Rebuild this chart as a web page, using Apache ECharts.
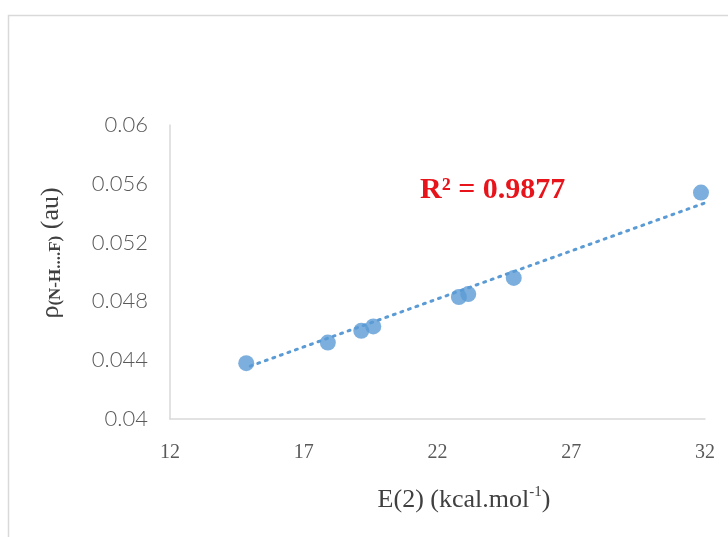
<!DOCTYPE html>
<html>
<head>
<meta charset="utf-8">
<script src="https://cdn.jsdelivr.net/npm/echarts@6/dist/echarts.min.js"></script>
<style>
  html, body { margin: 0; padding: 0; background: #fff; }
  #chart { width: 728px; height: 537px; }
</style>
</head>
<body>
<div id="chart"></div>
<script>
// E(2) in kcal/mol vs electron density at the N-H...F bond critical point
const eValues = [14.85, 17.9, 19.15, 19.6, 22.8, 23.15, 24.85, 31.85]
const rhoValues = [0.0438, 0.0452, 0.0460, 0.0463, 0.0483, 0.0485, 0.0496, 0.0554]
// dotted linear trendline, end points
const trendX = [15, 32]
const trendY = [0.0436, 0.0547]
const r2Text = 'R² = 0.9877'

const chart = echarts.init(document.getElementById('chart'))

const option = {
  backgroundColor: '#fff',
  animation: false,
  grid: { left: 170, right: 23, top: 125, bottom: 118 },
  graphic: [
    { // outer chart frame
      type: 'rect',
      shape: { x: 8.5, y: 15.5, width: 760, height: 560 },
      style: { fill: 'none', stroke: '#d9d9d9', lineWidth: 1.5 },
      silent: true
    },
    {
      type: 'text',
      left: 420,
      top: 175,
      style: {
        text: r2Text,
        fill: '#e8141b',
        font: 'bold 30px "Liberation Serif", serif'
      }
    },
    { // x axis title, sits a bit right of the axis centre
      type: 'text',
      x: 464,
      y: 500,
      style: {
        text: '{n|E(2) (kcal.mol}{s|-1}{n|)}',
        align: 'center',
        verticalAlign: 'middle',
        rich: {
          n: { fontFamily: 'Liberation Serif', fontSize: 26, fill: '#404040', lineHeight: 30 },
          s: { fontFamily: 'Liberation Serif', fontSize: 15, fill: '#404040', verticalAlign: 'top', lineHeight: 30, padding: [0, 0, 10, 0] }
        }
      }
    },
    { // y axis title, rotated
      type: 'text',
      x: 51,
      y: 253,
      rotation: Math.PI / 2,
      style: {
        text: '{n|ρ}{s|(N-H....F)}{n| (au)}',
        align: 'center',
        verticalAlign: 'middle',
        rich: {
          n: { fontFamily: 'Liberation Serif', fontSize: 26, fill: '#404040', lineHeight: 30 },
          s: { fontFamily: 'Liberation Serif', fontSize: 17, fontWeight: 'bold', fill: '#404040', lineHeight: 30, padding: [10, 0, 0, 0] }
        }
      }
    }
  ],
  xAxis: {
    type: 'value',
    min: 12,
    max: 32,
    interval: 5,
    splitLine: { show: false },
    axisTick: { show: false },
    axisLine: { lineStyle: { color: '#d9d9d9', width: 1.5 } },
    axisLabel: {
      color: '#595959',
      fontFamily: 'Liberation Serif',
      fontSize: 20,
      margin: 24
    }
  },
  yAxis: {
    type: 'value',
    min: 0.04,
    max: 0.06,
    interval: 0.004,
    splitLine: { show: false },
    axisTick: { show: false },
    axisLine: { show: true, lineStyle: { color: '#d9d9d9', width: 1.5 } },
    axisLabel: {
      color: '#595959',
      fontFamily: 'Lato',
      fontWeight: 300,
      fontSize: 22,
      margin: 22,
      formatter: v => +v.toFixed(3) + ''
    }
  },
  series: [
    {
      type: 'line',
      data: trendX.map((x, i) => [x, trendY[i]]),
      symbol: 'none',
      z: 1,
      lineStyle: { color: '#5b9bd5', width: 3, type: [2, 6], cap: 'round' }
    },
    {
      type: 'scatter',
      data: eValues.map((x, i) => [x, rhoValues[i]]),
      symbolSize: 16,
      z: 3,
      itemStyle: { color: '#5b9bd5' }
    }
  ]
}

chart.setOption(option)
</script>
</body>
</html>
